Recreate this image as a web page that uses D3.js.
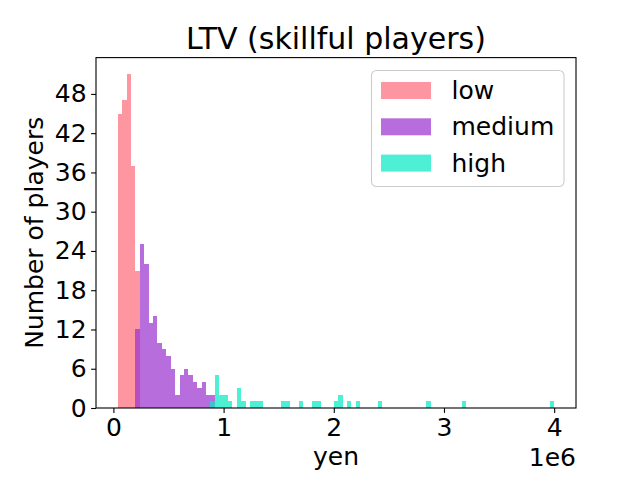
<!DOCTYPE html>
<html>
<head>
<meta charset="utf-8">
<script src="https://cdn.jsdelivr.net/npm/d3@7"></script>
<style>
  body { margin: 0; background: #fff; }
  text { font-family: "DejaVu Sans", sans-serif; fill: #000; }
</style>
</head>
<body>
<svg width="640" height="480"></svg>
<script>
// histogram bins: 40,000 yen wide, counts per bin
var binWidth = 40000;
var seriesNames = ["low", "medium", "high"];
var lowStart = 40000;
var lowCounts = [45, 47, 51, 37, 21];
var mediumStart = 200000;
var mediumCounts = [12, 25, 22, 13, 14, 10, 9, 8, 6, 2, 5, 6, 5, 4, 3, 4, 2, 2];
var highStart = 880000;
var highCounts = [1, 5, 2, 2, 1, 0, 3, 1, 0, 1,
  1, 1, 0, 0, 0, 0, 1, 1, 0, 0,
  1, 0, 0, 1, 1, 0, 0, 0, 1, 2,
  0, 1, 0, 1, 0, 0, 0, 0, 1, 0,
  0, 0, 0, 0, 0, 0, 0, 0, 0, 1,
  0, 0, 0, 0, 0, 0, 0, 1, 0, 0,
  0, 0, 0, 0, 0, 0, 0, 0, 0, 0,
  0, 0, 0, 0, 0, 0, 0, 1];
var xTicks = [0, 1e6, 2e6, 3e6, 4e6];
var yTicks = [0, 6, 12, 18, 24, 30, 36, 42, 48];

var colors = ["rgb(254,105,122)", "rgb(153,49,205)", "rgb(1,234,195)"];
var alpha = 0.7;

var svg = d3.select("svg");
var plotL = 96, plotR = 576, plotT = 57.6, plotB = 408;

var x = d3.scaleLinear().domain([-158000, 4198000]).range([plotL, plotR]);
var y = d3.scaleLinear().domain([0, 53.55]).range([plotB, plotT]);

function toBins(start, counts) {
  return counts.map(function (c, i) {
    return { x0: start + i * binWidth, x1: start + (i + 1) * binWidth, n: c };
  });
}
var series = [toBins(lowStart, lowCounts), toBins(mediumStart, mediumCounts), toBins(highStart, highCounts)];

series.forEach(function (bins, s) {
  svg.append("g")
    .selectAll("rect")
    .data(bins)
    .enter()
    .append("rect")
    .attr("x", function (d) { return x(d.x0); })
    .attr("width", function (d) { return x(d.x1) - x(d.x0); })
    .attr("y", function (d) { return y(d.n); })
    .attr("height", function (d) { return y(0) - y(d.n); })
    .attr("fill", colors[s])
    .attr("fill-opacity", alpha)
    .attr("shape-rendering", "crispEdges");
});

// axes
var xAxis = svg.append("g")
  .attr("transform", "translate(0," + plotB + ")")
  .call(d3.axisBottom(x).tickValues(xTicks).tickSize(4.9).tickPadding(4).tickFormat(function (d) { return d / 1e6; }));
var yAxis = svg.append("g")
  .attr("transform", "translate(" + plotL + ",0)")
  .call(d3.axisLeft(y).tickValues(yTicks).tickSize(4.9).tickPadding(4.5));
[xAxis, yAxis].forEach(function (g) {
  g.select(".domain").remove();
  g.selectAll("line").attr("stroke", "#000").attr("stroke-width", 1.1);
  g.selectAll("text").attr("font-size", 25).attr("font-family", "DejaVu Sans").attr("fill", "#000");
});
xAxis.selectAll("text").attr("dy", "0.76em");

svg.append("rect")
  .attr("x", plotL).attr("y", plotT)
  .attr("width", plotR - plotL).attr("height", plotB - plotT)
  .attr("fill", "none").attr("stroke", "#000").attr("stroke-width", 1.1);

svg.append("text")
  .attr("x", (plotL + plotR) / 2).attr("y", 49)
  .attr("text-anchor", "middle").attr("font-size", 30)
  .text("LTV (skillful players)");

svg.append("text")
  .attr("x", (plotL + plotR) / 2).attr("y", 465)
  .attr("text-anchor", "middle").attr("font-size", 25)
  .text("yen");

svg.append("text")
  .attr("x", plotR).attr("y", 466)
  .attr("text-anchor", "end").attr("font-size", 25)
  .text("1e6");

svg.append("text")
  .attr("transform", "translate(43," + (plotT + plotB) / 2 + ") rotate(-90)")
  .attr("text-anchor", "middle").attr("font-size", 25)
  .text("Number of players");

// legend
var legend = svg.append("g");
legend.append("rect")
  .attr("x", 371.5).attr("y", 70.5).attr("width", 192.5).attr("height", 116)
  .attr("rx", 5).attr("fill", "#fff").attr("fill-opacity", 0.8)
  .attr("stroke", "#cccccc").attr("stroke-width", 1.1);
seriesNames.forEach(function (name, i) {
  legend.append("rect")
    .attr("x", 381).attr("y", 82 + i * 36.3)
    .attr("width", 50).attr("height", 17)
    .attr("fill", colors[i]).attr("fill-opacity", alpha);
  legend.append("text")
    .attr("x", 451.5).attr("y", 99 + i * 36.3)
    .attr("font-size", 25)
    .text(name);
});
</script>
</body>
</html>
